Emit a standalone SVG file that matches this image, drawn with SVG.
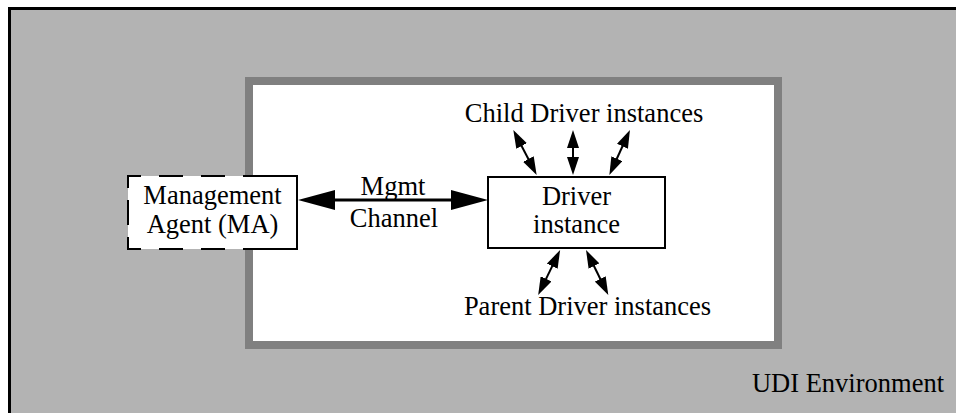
<svg xmlns="http://www.w3.org/2000/svg" width="956" height="413" viewBox="0 0 956 413">
  <style>
    .lbl { font-family: "Liberation Serif", "Times New Roman", serif; font-size: 26.5px; fill: #000; text-anchor: middle; }
    .box { fill: #fff; stroke: #000; stroke-width: 2; }
    .wire { stroke: #000; fill: none; }
  </style>
  <defs>
    <marker id="bigHead" markerUnits="userSpaceOnUse" viewBox="0 0 37 20" refX="2" refY="10" markerWidth="37" markerHeight="20" orient="auto-start-reverse">
      <path d="M0,0 L37,10 L0,20 Z" fill="#000"/>
    </marker>
    <marker id="smallHead" markerUnits="userSpaceOnUse" viewBox="0 0 18 12" refX="2" refY="6" markerWidth="18" markerHeight="12" orient="auto-start-reverse">
      <path d="M0,0 L18,6 L0,12 Z" fill="#000"/>
    </marker>
  </defs>

  <rect width="956" height="413" fill="#fff"/>

  <!-- UDI environment -->
  <g id="udi-environment">
    <rect x="9.5" y="8.5" width="960" height="420" fill="#b3b3b3" stroke="#000" stroke-width="3"/>
    <text class="lbl" x="848" y="392">UDI Environment</text>
  </g>

  <!-- driver region -->
  <g id="driver-region">
    <rect x="249" y="81" width="529" height="264" fill="#fff" stroke="#808080" stroke-width="8"/>
  </g>

  <!-- management agent, dashed where it sits outside the driver region -->
  <g id="management-agent">
    <rect x="128" y="176" width="169" height="73" fill="#fff"/>
    <path class="wire" stroke-width="2" d="M243,176H297V249H243"/>
    <path class="wire" stroke-width="2" d="M225,176H201 M183,176H159 M141,176H128V188 M128,200V225 M128,237V249H141 M159,249H183 M201,249H225"/>
    <text class="lbl" x="212.5" y="204">Management</text>
    <text class="lbl" x="212.5" y="233">Agent (MA)</text>
  </g>

  <!-- driver instance -->
  <g id="driver-instance">
    <rect class="box" x="488" y="177" width="177" height="71"/>
    <text class="lbl" x="576.5" y="205">Driver</text>
    <text class="lbl" x="576.5" y="233">instance</text>
  </g>

  <g id="child-label">
    <text class="lbl" x="584" y="122">Child Driver instances</text>
  </g>
  <g id="parent-label">
    <text class="lbl" x="587.5" y="315">Parent Driver instances</text>
  </g>
  <g id="mgmt-label">
    <text class="lbl" x="393" y="195">Mgmt</text>
    <text class="lbl" x="394" y="227">Channel</text>
  </g>

  <!-- connectors -->
  <g id="connectors">
    <line class="wire" stroke-width="3" x1="333" y1="200" x2="453" y2="200" marker-start="url(#bigHead)" marker-end="url(#bigHead)"/>
    <line class="wire" stroke-width="2" x1="520.7" y1="144.2" x2="529.3" y2="160.8" marker-start="url(#smallHead)" marker-end="url(#smallHead)"/>
    <line class="wire" stroke-width="2" x1="573" y1="146" x2="573" y2="159" marker-start="url(#smallHead)" marker-end="url(#smallHead)"/>
    <line class="wire" stroke-width="2" x1="623.3" y1="144.5" x2="616" y2="160.5" marker-start="url(#smallHead)" marker-end="url(#smallHead)"/>
    <line class="wire" stroke-width="2" x1="553.1" y1="264.4" x2="545.2" y2="280.6" marker-start="url(#smallHead)" marker-end="url(#smallHead)"/>
    <line class="wire" stroke-width="2" x1="593.1" y1="264.3" x2="601.2" y2="280.7" marker-start="url(#smallHead)" marker-end="url(#smallHead)"/>
  </g>
</svg>
